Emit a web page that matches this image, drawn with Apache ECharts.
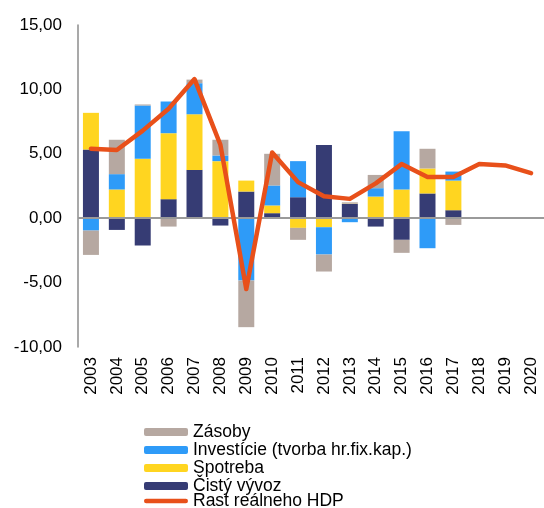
<!DOCTYPE html>
<html><head><meta charset="utf-8">
<script src="https://cdn.jsdelivr.net/npm/echarts@6/dist/echarts.min.js"></script>
<style>html,body{margin:0;padding:0;background:#fff}#c{width:544px;height:508px}</style>
</head><body><div id="c"></div>
<script>
var years = ['2003','2004','2005','2006','2007','2008','2009','2010','2011','2012','2013','2014','2015','2016','2017','2018','2019','2020'];
var cistyVyvoz = [5.33,-0.91,-2.12,1.48,3.75,-0.57,2.07,0.39,1.63,5.69,1.11,-0.65,-1.68,1.92,0.62,null,null,null];
var spotreba = [2.85,2.23,4.61,5.12,4.32,4.43,0.85,0.60,-0.75,-0.70,0.02,1.68,2.23,1.94,2.30,null,null,null];
var investicie = [-0.96,1.19,4.14,2.46,2.41,0.44,-4.84,1.55,2.80,-2.12,-0.31,0.65,4.53,-2.33,0.70,null,null,null];
var zasoby = [-1.89,2.67,0.08,-0.65,0.28,1.22,-3.62,2.46,-0.93,-1.32,0.10,1.03,-1.01,1.53,-0.52,null,null,null];
var rastHDP = [5.4,5.3,6.8,8.5,10.8,5.7,-5.5,5.1,2.8,1.7,1.5,2.7,4.2,3.2,3.2,4.2,4.1,3.5];

var FONT = '"Liberation Sans", Arial, sans-serif';
var chart = echarts.init(document.getElementById('c'), null, {renderer:'canvas'});
function bar(name, data, color){
  return {name:name, type:'bar', stack:'a', data:data, barWidth:16,
    itemStyle:{color:color}, emphasis:{disabled:true}};
}
var series = [
  bar('Čistý vývoz', cistyVyvoz, '#363C74'),
  bar('Spotreba', spotreba, '#FFD520'),
  bar('Investície (tvorba hr.fix.kap.)', investicie, '#2E9BF8'),
  bar('Zásoby', zasoby, '#B6A8A1'),
  {name:'Rast reálneho HDP', type:'line', data:rastHDP, symbol:'none', showSymbol:false, z:5,
   lineStyle:{color:'#E8501A', width:4.5, cap:'round', join:'round'},
   itemStyle:{color:'#E8501A'},
   markLine:{silent:true, symbol:'none', label:{show:false},
     lineStyle:{color:'#9a9a9a', width:2, type:'solid'}, data:[{yAxis:0}]},
   emphasis:{disabled:true}}
];
var legendBase = {orient:'vertical', left:144, padding:0, itemWidth:44, itemHeight:8, itemGap:0,
    textStyle:{fontSize:17.5, lineHeight:17.3, color:'#000', fontFamily:FONT},
    selectedMode:false};
chart.setOption({
  animation:false,
  textStyle:{fontFamily:FONT},
  grid:{left:78, top:25, width:469, height:322, containLabel:false},
  xAxis:{type:'category', data:years, position:'bottom',
    axisLine:{show:false, onZero:false}, axisTick:{show:false},
    axisLabel:{rotate:90, fontSize:17, color:'#000', margin:10, fontFamily:FONT, interval:0}},
  yAxis:{type:'value', min:-10, max:15, interval:5,
    axisLine:{show:true, lineStyle:{color:'#8c8c8c', width:1.5}}, axisTick:{show:false},
    splitLine:{show:false},
    axisLabel:{fontSize:17, color:'#000', margin:16, fontFamily:FONT,
      formatter:function(v){return v.toFixed(2).replace('.',',');}}},
  legend:[
    Object.assign({}, legendBase, {top:423,
      data:['Zásoby','Investície (tvorba hr.fix.kap.)','Spotreba','Čistý vývoz']}),
    Object.assign({}, legendBase, {top:492,
      data:[{name:'Rast reálneho HDP', icon:'path://M0,-3 M0,13 M5,0 L95,0 A5,5 0 0 1 95,10 L5,10 A5,5 0 0 1 5,0 Z'}]})
  ],
  series:series
});
</script></body></html>
